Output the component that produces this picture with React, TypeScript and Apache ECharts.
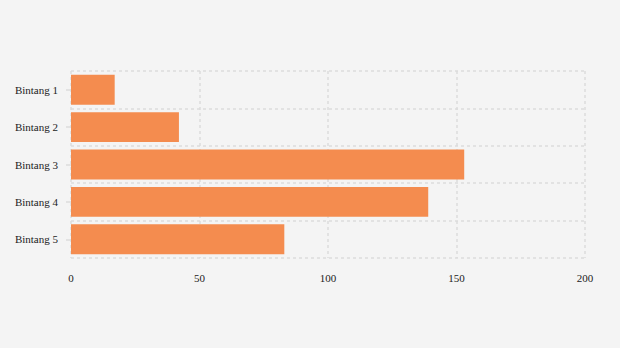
import React, { useEffect, useRef } from "react";
import * as echarts from "echarts";

const categories = ["Bintang 1", "Bintang 2", "Bintang 3", "Bintang 4", "Bintang 5"];
const values = [17, 42, 153, 139, 83];
const xTicks = { min: 0, max: 200, interval: 50 };

export default function App() {
  const ref = useRef<HTMLDivElement>(null);
  useEffect(() => {
    if (!ref.current) return;
    const chart = echarts.init(ref.current, null, { renderer: "svg" });
    chart.setOption({
      animation: false,
      backgroundColor: "#f4f4f4",
      textStyle: { fontFamily: "Liberation Serif" },
      grid: { left: 71, right: 35, top: 71, bottom: 90, containLabel: false },
      xAxis: {
        type: "value",
        min: xTicks.min,
        max: xTicks.max,
        interval: xTicks.interval,
        axisLine: { show: false },
        axisTick: { show: false },
        axisLabel: { color: "#222", fontSize: 11, margin: 14, fontFamily: "Liberation Serif" },
        splitLine: { show: true, lineStyle: { color: "#dcdcdc", type: [3, 3], width: 1.5 } },
      },
      yAxis: {
        type: "category",
        data: categories,
        inverse: true,
        axisLine: { show: false },
        axisTick: { show: true, alignWithLabel: true, length: 5, lineStyle: { color: "#dcdcdc", width: 1.5 } },
        axisLabel: { color: "#222", fontSize: 11, margin: 13, fontFamily: "Liberation Serif" },
        splitLine: { show: true, lineStyle: { color: "#dcdcdc", type: [3, 3], width: 1.5 } },
      },
      series: [
        {
          type: "bar",
          data: values,
          barCategoryGap: "20%",
          itemStyle: { color: "#f48c4f" },
        },
      ],
    });
    return () => chart.dispose();
  }, []);
  return <div ref={ref} style={{ width: 620, height: 348, position: "absolute", left: 0, top: 0 }} />;
}
